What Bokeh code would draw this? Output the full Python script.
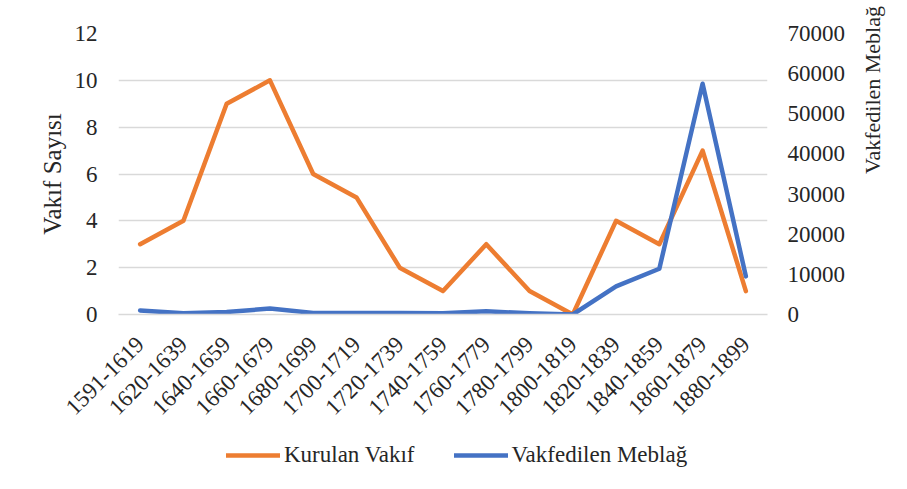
import math
from bokeh.plotting import figure
from bokeh.layouts import column
from bokeh.models import LinearAxis, Range1d, Legend, LegendItem, FixedTicker
from bokeh.embed import file_html
from bokeh.resources import INLINE

periods = ["1591-1619", "1620-1639", "1640-1659", "1660-1679", "1680-1699",
           "1700-1719", "1720-1739", "1740-1759", "1760-1779", "1780-1799",
           "1800-1819", "1820-1839", "1840-1859", "1860-1879", "1880-1899"]
kurulan_vakif = [3, 4, 9, 10, 6, 5, 2, 1, 3, 1, 0, 4, 3, 7, 1]
vakfedilen_meblag = [1000, 300, 600, 1500, 400, 400, 400, 300, 800, 300, 0,
                     7000, 11400, 57500, 9500]
left_ticks = [0, 2, 4, 6, 8, 10, 12]
right_ticks = [0, 10000, 20000, 30000, 40000, 50000, 60000, 70000]

FONT = "Liberation Serif"
ORANGE = "#ED7D31"
BLUE = "#4472C4"
GRID = "#D9D9D9"
TXT = "#262626"

p = figure(x_range=periods, y_range=Range1d(0, 12), width=905, height=425,
           output_backend="svg", toolbar_location=None,
           min_border_left=118, min_border_right=138, min_border_top=33,
           min_border_bottom=111)
p.outline_line_color = None
p.extra_y_ranges = {"right": Range1d(0, 70000)}

p.xgrid.grid_line_color = None
p.ygrid.grid_line_color = GRID
p.ygrid.grid_line_width = 1.3
p.yaxis.ticker = FixedTicker(ticks=left_ticks)

for ax in [p.xaxis[0], p.yaxis[0]]:
    ax.major_tick_line_color = None
    ax.minor_tick_line_color = None
    ax.major_label_text_font = FONT
    ax.major_label_text_font_size = "23px"
    ax.major_label_text_color = TXT
    ax.axis_label_text_font = FONT
    ax.axis_label_text_font_size = "25px"
    ax.axis_label_text_font_style = "normal"
    ax.axis_label_text_color = TXT

p.yaxis.axis_line_color = None
p.yaxis.axis_label = "Vakıf Sayısı"
p.yaxis.major_label_standoff = 15
p.yaxis.axis_label_standoff = 6

p.xaxis.axis_line_color = GRID
p.xaxis.axis_line_width = 1.3
p.xaxis.major_label_orientation = math.pi / 4
p.xaxis.major_label_standoff = 20

ra = LinearAxis(y_range_name="right", ticker=FixedTicker(ticks=right_ticks),
                axis_label="Vakfedilen Meblağ")
ra.axis_line_color = None
ra.major_tick_line_color = None
ra.minor_tick_line_color = None
ra.major_label_text_font = FONT
ra.major_label_text_font_size = "23px"
ra.major_label_text_color = TXT
ra.major_label_standoff = 14
ra.axis_label_text_font = FONT
ra.axis_label_text_font_size = "22px"
ra.axis_label_text_font_style = "normal"
ra.axis_label_text_color = TXT
ra.axis_label_standoff = 24
ra.axis_label_orientation = math.pi / 2
ra.axis_label_text_align = "center"
p.add_layout(ra, "right")

p.line(periods, kurulan_vakif, line_color=ORANGE, line_width=4.5,
       line_join="round", line_cap="round")
p.line(periods, vakfedilen_meblag, y_range_name="right", line_color=BLUE,
       line_width=4.5, line_join="round", line_cap="round")

# legend strip below the chart (same series, drawn outside its visible range)
lf = figure(x_range=periods, y_range=Range1d(-10, -9), width=905, height=64,
            output_backend="svg", toolbar_location=None,
            x_axis_location=None, y_axis_location=None,
            min_border_left=0, min_border_right=0, min_border_top=0,
            min_border_bottom=0)
lf.outline_line_color = None
lf.grid.grid_line_color = None
g1 = lf.line(periods, kurulan_vakif, line_color=ORANGE, line_width=4.5,
             line_cap="round")
g2 = lf.line(periods, vakfedilen_meblag, line_color=BLUE, line_width=4.5,
             line_cap="round")

legend = Legend(items=[LegendItem(label="Kurulan Vakıf", renderers=[g1]),
                       LegendItem(label="Vakfedilen Meblağ", renderers=[g2])],
                orientation="horizontal", location=(108, 21))
legend.label_text_font = FONT
legend.label_text_font_size = "23px"
legend.label_text_color = TXT
legend.glyph_width = 54
legend.label_standoff = 4
legend.spacing = 39
legend.padding = 4
legend.margin = 0
legend.border_line_color = None
legend.background_fill_alpha = 0
lf.add_layout(legend, "center")

layout = column(p, lf, spacing=0)
open("out.html", "w").write(file_html(layout, INLINE))
